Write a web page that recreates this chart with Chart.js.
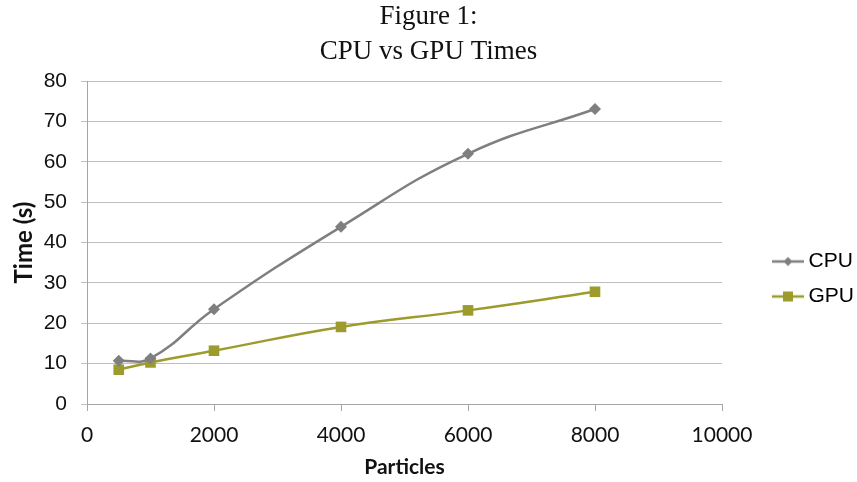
<!DOCTYPE html>
<html>
<head>
<meta charset="utf-8">
<script src="https://cdn.jsdelivr.net/npm/chart.js@4.4.1/dist/chart.umd.min.js"></script>
<style>
  html, body { margin: 0; padding: 0; background: #ffffff; }
  #wrap { width: 857px; height: 482px; position: relative; }
</style>
</head>
<body>
<div id="wrap"><canvas id="chart" width="857" height="482"></canvas></div>
<script>
// Benchmark: run time versus number of particles
const particles = [500, 1000, 2000, 4000, 6000, 8000];
const cpuTimes  = [10.7, 11.3, 23.5, 43.9, 62.0, 73.1];
const gpuTimes  = [8.5, 10.3, 13.2, 19.1, 23.2, 27.8];
const titleLines = ['Figure 1:', 'CPU vs GPU Times'];
const xTitle = 'Particles';
const yTitle = 'Time (s)';

const CPU_COLOR = '#7f7f7f';
const GPU_COLOR = '#9c9b2c';

// Legend swatch: a short line with the series marker in the middle
function swatch(color, shape) {
  const c = document.createElement('canvas');
  c.width = 32; c.height = 14;
  const g = c.getContext('2d');
  g.strokeStyle = color; g.lineWidth = 2.5;
  g.beginPath(); g.moveTo(0, 7); g.lineTo(32, 7); g.stroke();
  g.fillStyle = color;
  g.beginPath();
  if (shape === 'diamond') {
    g.moveTo(16, 2.5); g.lineTo(20.5, 7); g.lineTo(16, 11.5); g.lineTo(11.5, 7);
  } else {
    g.rect(11, 2, 10, 10);
  }
  g.closePath(); g.fill();
  return c;
}
const swatches = [swatch(CPU_COLOR, 'diamond'), swatch(GPU_COLOR, 'square')];

const toXY = (xs, ys) => xs.map((x, i) => ({ x: x, y: ys[i] }));

// Fixed legend column width on the right, and its placement beside the plot
const legendPlacer = {
  id: 'legendPlacer',
  beforeLayout(chart) {
    const lg = chart.legend;
    if (!lg || lg._fixedFit) return;
    const fit = lg.fit;
    lg.fit = function () { fit.call(this); if (!this.isHorizontal()) this.width = 135; };
    lg._fixedFit = true;
  },
  afterLayout(chart) {
    const lg = chart.legend;
    if (!lg) return;
    const dx = 764 - lg.left;
    lg.left += dx; lg.right += dx;
    const dy = 38;
    lg.top += dy; lg.bottom += dy;
  }
};

new Chart(document.getElementById('chart'), {
  type: 'line',
  data: {
    datasets: [
      {
        label: 'CPU',
        data: toXY(particles, cpuTimes),
        borderColor: CPU_COLOR,
        backgroundColor: CPU_COLOR,
        borderWidth: 2.5,
        tension: 0.45,
        pointStyle: 'rectRot',
        pointRadius: 6,
        pointBorderWidth: 0,
        pointBackgroundColor: CPU_COLOR
      },
      {
        label: 'GPU',
        data: toXY(particles, gpuTimes),
        borderColor: GPU_COLOR,
        backgroundColor: GPU_COLOR,
        borderWidth: 2.5,
        tension: 0.45,
        pointStyle: 'rect',
        pointRadius: 7.5,
        pointBorderWidth: 0,
        pointBackgroundColor: GPU_COLOR
      }
    ]
  },
  plugins: [legendPlacer],
  options: {
    responsive: false,
    animation: false,
    layout: { padding: { left: 0, right: 0, top: 0, bottom: 0 } },
    plugins: {
      tooltip: { enabled: false },
      title: {
        display: true,
        text: titleLines,
        color: '#111111',
        font: { family: '"Liberation Serif", "DejaVu Serif", serif', size: 27, weight: 'normal', lineHeight: 1.28 },
        padding: { top: 0, bottom: 12 }
      },
      legend: {
        position: 'right',
        labels: {
          color: '#111111',
          font: { family: '"Liberation Sans", Arial, sans-serif', size: 21 },
          usePointStyle: true,
          pointStyleWidth: 20,
          padding: 14,
          generateLabels: (chart) => chart.data.datasets.map((ds, i) => ({
            text: ds.label,
            fillStyle: ds.borderColor,
            strokeStyle: ds.borderColor,
            pointStyle: swatches[i],
            lineWidth: 0,
            hidden: false,
            datasetIndex: i
          }))
        }
      }
    },
    scales: {
      x: {
        type: 'linear',
        min: 0,
        max: 10000,
        afterFit: (scale) => { scale.height = 78; },
        ticks: {
          stepSize: 2000,
          color: '#111111',
          padding: 12,
          callback: (v) => String(v),
          font: { family: 'Lato, "Liberation Sans", sans-serif', size: 21 }
        },
        grid: { drawOnChartArea: false, drawTicks: true, tickLength: 7, color: '#a6a6a6' },
        border: { color: '#a6a6a6', width: 1 },
        title: {
          display: true,
          text: xTitle,
          color: '#111111',
          font: { family: 'Lato, "Liberation Sans", sans-serif', size: 21, weight: 'bold' },
          padding: { top: 0, bottom: 2 }
        }
      },
      y: {
        min: 0,
        max: 80,
        afterFit: (scale) => { scale.width = 87; },
        ticks: {
          stepSize: 10,
          color: '#111111',
          padding: 14,
          font: { family: '"Liberation Sans", Arial, sans-serif', size: 21 }
        },
        grid: { color: '#bfbfbf', lineWidth: 1, tickLength: 6, drawTicks: true },
        border: { color: '#a6a6a6', width: 1 },
        title: {
          display: true,
          text: yTitle,
          color: '#111111',
          font: { family: 'Lato, "Liberation Sans", sans-serif', size: 24, weight: 'bold' },
          padding: { top: 10, bottom: 0 }
        }
      }
    }
  }
});
</script>
</body>
</html>
